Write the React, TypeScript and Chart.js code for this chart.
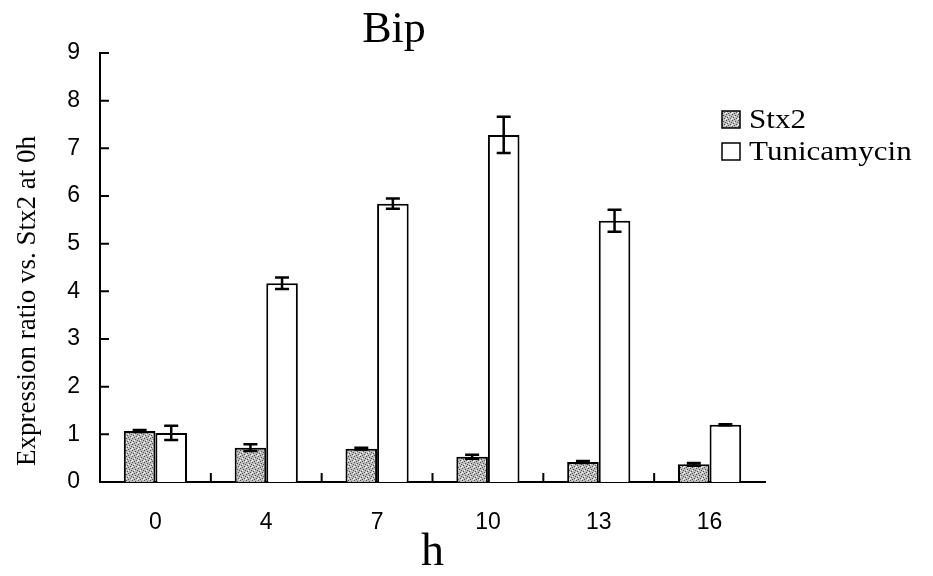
import React, { useEffect, useRef } from "react";
import { Chart, registerables } from "chart.js";

Chart.register(...registerables);

const categories = ["0", "4", "7", "10", "13", "16"];
const stx2Values = [1.07, 0.72, 0.7, 0.53, 0.42, 0.37];
const stx2Errors = [0.02, 0.07, 0.02, 0.04, 0.02, 0.03];
const tunValues = [1.03, 4.17, 5.84, 7.28, 5.48, 1.2];
const tunErrors = [0.15, 0.12, 0.11, 0.38, 0.23, 0.01];
const yTickValues = [0, 1, 2, 3, 4, 5, 6, 7, 8, 9];
const seriesLabels = ["Stx2", "Tunicamycin"];
const chartTitle = "Bip";
const yTitle = "Expression ratio vs. Stx2 at 0h";
const xTitle = "h";

function makePattern(): CanvasPattern | string {
  const c = document.createElement("canvas");
  c.width = 6;
  c.height = 6;
  const g = c.getContext("2d");
  if (!g) return "#aaa";
  g.fillStyle = "#bdbdbd";
  g.fillRect(0, 0, 6, 6);
  g.fillStyle = "#505050";
  const dots = [
    [0, 0], [3, 1], [1, 3], [4, 4], [5, 2], [2, 5],
  ];
  dots.forEach(([x, y]) => g.fillRect(x, y, 1, 1));
  g.fillStyle = "#ffffff";
  [[2, 2], [5, 5], [0, 4]].forEach(([x, y]) => g.fillRect(x, y, 1, 1));
  const p = g.createPattern(c, "repeat");
  return p || "#aaa";
}

export default function App() {
  const ref = useRef<HTMLCanvasElement | null>(null);

  useEffect(() => {
    document.body.style.margin = "0";
    const canvas = ref.current;
    if (!canvas) return;
    const pattern = makePattern();
    const errors = [stx2Errors, tunErrors];

    const decor = {
      id: "decor",
      afterDatasetsDraw(chart: any) {
        const ctx = chart.ctx;
        const ys = chart.scales.y;
        const xs = chart.scales.x;
        const area = chart.chartArea;
        ctx.save();
        ctx.strokeStyle = "#000";
        ctx.lineWidth = 2.5;
        chart.data.datasets.forEach((ds: any, i: number) => {
          const meta = chart.getDatasetMeta(i);
          meta.data.forEach((el: any, j: number) => {
            const v = ds.data[j];
            const e = errors[i][j];
            const x = el.x;
            const yt = ys.getPixelForValue(v + e);
            const yb = ys.getPixelForValue(v - e);
            ctx.beginPath();
            ctx.moveTo(x, yt);
            ctx.lineTo(x, yb);
            ctx.moveTo(x - 7, yt);
            ctx.lineTo(x + 7, yt);
            ctx.moveTo(x - 7, yb);
            ctx.lineTo(x + 7, yb);
            ctx.stroke();
          });
        });
        ctx.lineWidth = 2;
        ctx.beginPath();
        yTickValues.forEach((t) => {
          const y = ys.getPixelForValue(t);
          ctx.moveTo(area.left, y);
          ctx.lineTo(area.left + 9, y);
        });
        for (let i = 0; i < categories.length - 1; i++) {
          const x = (xs.getPixelForValue(i) + xs.getPixelForValue(i + 1)) / 2;
          ctx.moveTo(x, area.bottom);
          ctx.lineTo(x, area.bottom - 9);
        }
        ctx.stroke();
        ctx.restore();
      },
      afterDraw(chart: any) {
        const ctx = chart.ctx;
        ctx.save();
        ctx.fillStyle = "#000";
        ctx.font = '44px "Liberation Serif"';
        ctx.textAlign = "center";
        ctx.textBaseline = "alphabetic";
        ctx.fillText(chartTitle, 394, 42);
        ctx.save();
        ctx.translate(35, 301);
        ctx.rotate(-Math.PI / 2);
        ctx.font = '27px "Liberation Serif"';
        ctx.textAlign = "center";
        ctx.textBaseline = "alphabetic";
        ctx.fillText(yTitle, 0, 0);
        ctx.restore();
        const rows = [128, 160];
        chart.data.datasets.forEach((ds: any, i: number) => {
          const base = rows[i];
          ctx.fillStyle = ds.backgroundColor;
          ctx.fillRect(722, base - 17, 18, 17);
          ctx.strokeStyle = "#000";
          ctx.lineWidth = 1.5;
          ctx.strokeRect(722, base - 17, 18, 17);
          ctx.save();
          ctx.translate(749, base);
          ctx.scale(1.15, 1);
          ctx.fillStyle = "#000";
          ctx.font = '27px "Liberation Serif"';
          ctx.textAlign = "left";
          ctx.fillText(ds.label, 0, 0);
          ctx.restore();
        });
        ctx.restore();
      },
    };

    const chart = new Chart(canvas, {
      type: "bar",
      data: {
        labels: categories,
        datasets: [
          {
            label: seriesLabels[0],
            data: stx2Values,
            backgroundColor: pattern as any,
            borderColor: "#000",
            borderWidth: 2,
          },
          {
            label: seriesLabels[1],
            data: tunValues,
            backgroundColor: "#ffffff",
            borderColor: "#000",
            borderWidth: 2,
          },
        ],
      },
      options: {
        responsive: false,
        animation: false,
        devicePixelRatio: 1,
        layout: { padding: { top: 53, right: 168, left: 0, bottom: 0 } },
        categoryPercentage: 0.57,
        barPercentage: 1.0,
        plugins: {
          legend: { display: false },
          title: { display: false },
          tooltip: { enabled: false },
        },
        scales: {
          x: {
            grid: { display: false, drawTicks: false },
            border: { display: true, color: "#000", width: 2 },
            ticks: {
              color: "#000",
              font: { family: '"Liberation Sans"', size: 23 },
              padding: 27,
              maxRotation: 0,
            },
            title: {
              display: true,
              text: xTitle,
              color: "#000",
              font: { family: '"Liberation Serif"', size: 46, lineHeight: 1 },
              padding: { top: 0, bottom: 0 },
            },
            afterFit(s: any) {
              s.height = 94;
            },
          },
          y: {
            min: 0,
            max: 9,
            grid: { display: false, drawTicks: false },
            border: { display: true, color: "#000", width: 2 },
            ticks: {
              stepSize: 1,
              color: "#000",
              font: { family: '"Liberation Sans"', size: 23 },
              padding: 20,
            },
            afterFit(s: any) {
              s.width = 100;
            },
          },
        },
      } as any,
      plugins: [decor],
    });
    return () => chart.destroy();
  }, []);

  return (
    <div style={{ width: 933, height: 576, background: "#fff" }}>
      <canvas ref={ref} width={933} height={576} style={{ width: 933, height: 576, display: "block" }} />
    </div>
  );
}
